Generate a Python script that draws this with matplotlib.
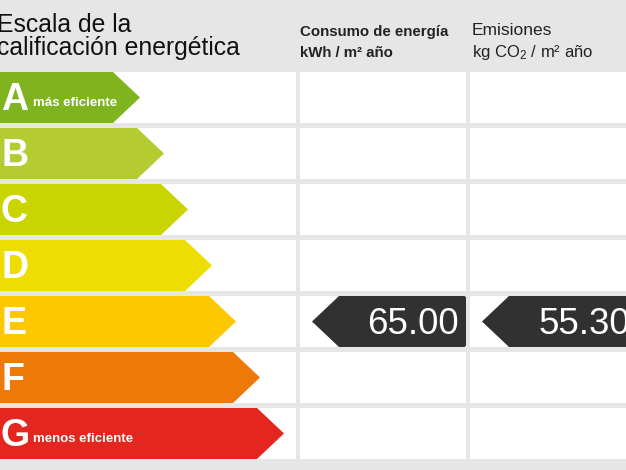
"""
Energy rating label (escala de calificación energética) drawn with matplotlib patches
"""

import matplotlib
matplotlib.use("Agg")
import matplotlib.pyplot as plt
from matplotlib.patches import Polygon, Rectangle, FancyBboxPatch

# Data
letters = ["A", "B", "C", "D", "E", "F", "G"]
colors = ["#80b41f", "#b4cb31", "#c9d400", "#eedd00", "#fdc800", "#ec7908", "#e3261f"]
side_labels = ["más eficiente", "", "", "", "", "", "menos eficiente"]
title_lines = ["Escala de la", "calificación energética"]
col_titles = ["Consumo de energía", "Emisiones"]
col_units = ["kWh / m² año", "kg CO$_2$ / m² año"]
current_rating = "E"
values = [65.00, 55.30]

W, H = 626, 470
BG = "#e6e6e6"
ROW_TOP = 72
ROW_PITCH = 56
ROW_H = 51
COL_X = [(0, 296), (300, 466), (470, 637)]

plt.rcParams['font.family'] = ['Liberation Sans', 'DejaVu Sans']
plt.rcParams['mathtext.fontset'] = 'custom'
plt.rcParams['mathtext.rm'] = 'Liberation Sans'
plt.rcParams['mathtext.it'] = 'Liberation Sans'
plt.rcParams['mathtext.bf'] = 'Liberation Sans:bold'

fig = plt.figure(figsize=(W / 100, H / 100), dpi=100, facecolor=BG)
ax = fig.add_axes([0, 0, 1, 1])
ax.set_xlim(0, W)
ax.set_ylim(H, 0)
ax.axis("off")
ax.set_facecolor(BG)

# Header
ax.text(-3, 32, title_lines[0], fontsize=17.8, color="#111111", va="baseline")
ax.text(-3, 55, title_lines[1], fontsize=17.8, color="#111111", va="baseline")
ax.text(300, 36, col_titles[0], fontsize=10.8, fontweight="bold", color="#222222", va="baseline")
ax.text(300, 57, col_units[0], fontsize=10.8, fontweight="bold", color="#222222", va="baseline")
ax.text(472, 35, col_titles[1], fontsize=12.5, color="#222222", va="baseline")
ax.text(472, 57, col_units[1], fontsize=12, color="#222222", va="baseline")

rating_idx = letters.index(current_rating)

for i, (letter, col) in enumerate(zip(letters, colors)):
    top = ROW_TOP + i * ROW_PITCH
    bot = top + ROW_H
    mid = (top + bot) / 2
    # white cells
    for x0, x1 in COL_X:
        ax.add_patch(Rectangle((x0, top), x1 - x0, ROW_H, facecolor="white", edgecolor="none"))
    # coloured arrow
    tip = 140 + i * 24
    body = tip - 27
    ax.add_patch(Polygon([(0, top), (body, top), (tip, mid), (body, bot), (0, bot)],
                         closed=True, facecolor=col, edgecolor="none"))
    ax.text(1, mid + 13, letter, fontsize=27, fontweight="bold", color="white", va="baseline")
    if side_labels[i]:
        ax.text(33, mid + 9, side_labels[i], fontsize=9.5, fontweight="bold",
                color="white", va="baseline")

# Indicator arrows for the current rating
top = ROW_TOP + rating_idx * ROW_PITCH
bot = top + ROW_H
mid = (top + bot) / 2
for (x0, x1), val in zip(COL_X[1:], values):
    tip = x0 + 12
    shoulder = tip + 26
    right = x1
    ax.add_patch(FancyBboxPatch((shoulder, top), right - shoulder, ROW_H,
                                boxstyle="round,pad=0,rounding_size=2",
                                facecolor="#313131", edgecolor="none"))
    ax.add_patch(Polygon([(shoulder + 1, top), (tip, mid), (shoulder + 1, bot)],
                         closed=True, facecolor="#313131", edgecolor="none"))
    ax.text(right - 7, mid + 13, f"{val:.2f}", fontsize=26.5, color="white",
            ha="right", va="baseline")

fig.savefig("out.png", dpi=100, facecolor=BG)
